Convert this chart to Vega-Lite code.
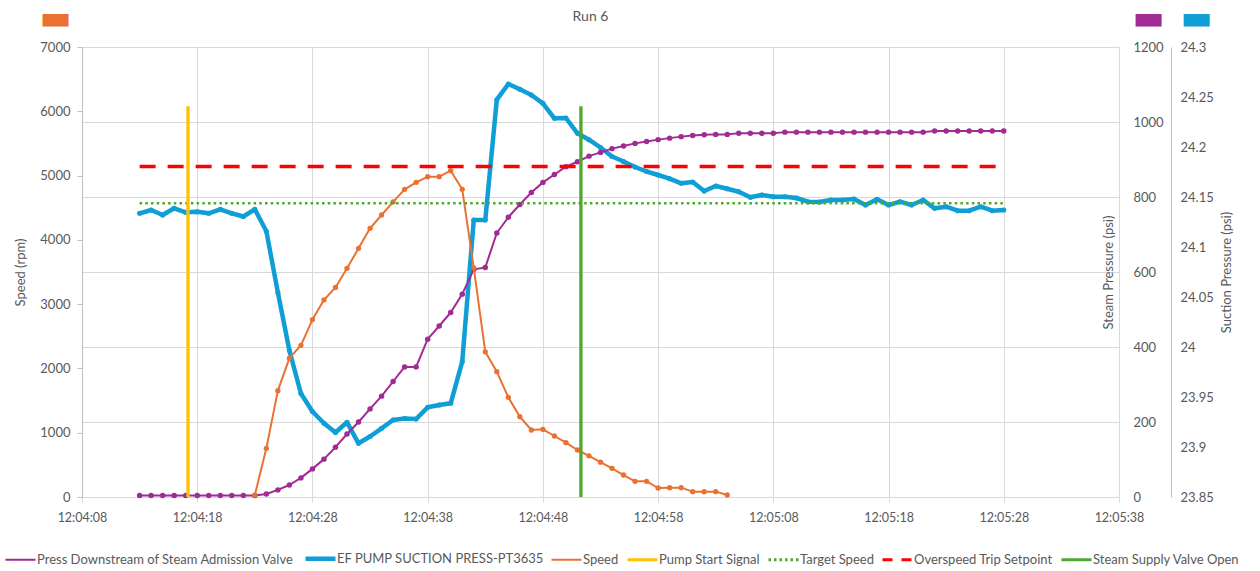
{
  "$schema": "https://vega.github.io/schema/vega-lite/v6.json",
  "width": 1037,
  "height": 450,
  "autosize": {"type": "none"},
  "padding": {"left": 82, "top": 47, "right": 141, "bottom": 74},
  "title": {"text": "Run 6", "anchor": "middle", "frame": "group", "fontSize": 14, "fontWeight": "normal", "color": "#595959", "offset": 24, "dx": -10, "dy": 47},
  "datasets": {
    "readings": [
      {"t": "2024-01-01T12:04:13", "steam": 4, "suction": 24.1337, "speed": null},
      {"t": "2024-01-01T12:04:14", "steam": 4, "suction": 24.137, "speed": null},
      {"t": "2024-01-01T12:04:15", "steam": 4, "suction": 24.132, "speed": null},
      {"t": "2024-01-01T12:04:16", "steam": 4, "suction": 24.1387, "speed": null},
      {"t": "2024-01-01T12:04:17", "steam": 4, "suction": 24.1347, "speed": null},
      {"t": "2024-01-01T12:04:18", "steam": 4, "suction": 24.1353, "speed": null},
      {"t": "2024-01-01T12:04:19", "steam": 4, "suction": 24.1337, "speed": null},
      {"t": "2024-01-01T12:04:20", "steam": 4, "suction": 24.1377, "speed": null},
      {"t": "2024-01-01T12:04:21", "steam": 4, "suction": 24.1337, "speed": null},
      {"t": "2024-01-01T12:04:22", "steam": 4, "suction": 24.1305, "speed": null},
      {"t": "2024-01-01T12:04:23", "steam": 4, "suction": 24.1377, "speed": 30},
      {"t": "2024-01-01T12:04:24", "steam": 8, "suction": 24.1158, "speed": 757},
      {"t": "2024-01-01T12:04:25", "steam": 19, "suction": 24.0543, "speed": 1654},
      {"t": "2024-01-01T12:04:26", "steam": 32, "suction": 23.9965, "speed": 2160},
      {"t": "2024-01-01T12:04:27", "steam": 51, "suction": 23.9535, "speed": 2360},
      {"t": "2024-01-01T12:04:28", "steam": 75, "suction": 23.9355, "speed": 2760},
      {"t": "2024-01-01T12:04:29", "steam": 101, "suction": 23.9237, "speed": 3065},
      {"t": "2024-01-01T12:04:30", "steam": 133, "suction": 23.9145, "speed": 3260},
      {"t": "2024-01-01T12:04:31", "steam": 168, "suction": 23.9247, "speed": 3557},
      {"t": "2024-01-01T12:04:32", "steam": 200, "suction": 23.9037, "speed": 3869},
      {"t": "2024-01-01T12:04:33", "steam": 235, "suction": 23.9105, "speed": 4180},
      {"t": "2024-01-01T12:04:34", "steam": 269, "suction": 23.9187, "speed": 4387},
      {"t": "2024-01-01T12:04:35", "steam": 308, "suction": 23.927, "speed": 4590},
      {"t": "2024-01-01T12:04:36", "steam": 347, "suction": 23.9285, "speed": 4786},
      {"t": "2024-01-01T12:04:37", "steam": 347, "suction": 23.928, "speed": 4895},
      {"t": "2024-01-01T12:04:38", "steam": 421, "suction": 23.9397, "speed": 4983},
      {"t": "2024-01-01T12:04:39", "steam": 456, "suction": 23.942, "speed": 4983},
      {"t": "2024-01-01T12:04:40", "steam": 492, "suction": 23.9437, "speed": 5076},
      {"t": "2024-01-01T12:04:41", "steam": 541, "suction": 23.9853, "speed": 4786},
      {"t": "2024-01-01T12:04:42", "steam": 607, "suction": 24.127, "speed": 3565},
      {"t": "2024-01-01T12:04:43", "steam": 612, "suction": 24.127, "speed": 2258},
      {"t": "2024-01-01T12:04:44", "steam": 704, "suction": 24.2473, "speed": 1949},
      {"t": "2024-01-01T12:04:45", "steam": 746, "suction": 24.263, "speed": 1550},
      {"t": "2024-01-01T12:04:46", "steam": 780, "suction": 24.2577, "speed": 1250},
      {"t": "2024-01-01T12:04:47", "steam": 812, "suction": 24.252, "speed": 1042},
      {"t": "2024-01-01T12:04:48", "steam": 839, "suction": 24.2437, "speed": 1052},
      {"t": "2024-01-01T12:04:49", "steam": 860, "suction": 24.2287, "speed": 949},
      {"t": "2024-01-01T12:04:50", "steam": 881, "suction": 24.229, "speed": 845},
      {"t": "2024-01-01T12:04:51", "steam": 894, "suction": 24.2137, "speed": 731},
      {"t": "2024-01-01T12:04:52", "steam": 909, "suction": 24.2073, "speed": 640},
      {"t": "2024-01-01T12:04:53", "steam": 919, "suction": 24.1995, "speed": 542},
      {"t": "2024-01-01T12:04:54", "steam": 929, "suction": 24.1905, "speed": 446},
      {"t": "2024-01-01T12:04:55", "steam": 936, "suction": 24.1855, "speed": 342},
      {"t": "2024-01-01T12:04:56", "steam": 943, "suction": 24.18, "speed": 244},
      {"t": "2024-01-01T12:04:57", "steam": 948, "suction": 24.1755, "speed": 244},
      {"t": "2024-01-01T12:04:58", "steam": 953, "suction": 24.172, "speed": 140},
      {"t": "2024-01-01T12:04:59", "steam": 957, "suction": 24.1683, "speed": 145},
      {"t": "2024-01-01T12:05:00", "steam": 961, "suction": 24.1637, "speed": 145},
      {"t": "2024-01-01T12:05:01", "steam": 964, "suction": 24.165, "speed": 83},
      {"t": "2024-01-01T12:05:02", "steam": 966, "suction": 24.156, "speed": 83},
      {"t": "2024-01-01T12:05:03", "steam": 967, "suction": 24.161, "speed": 83},
      {"t": "2024-01-01T12:05:04", "steam": 967, "suction": 24.1582, "speed": 31},
      {"t": "2024-01-01T12:05:05", "steam": 970, "suction": 24.1553, "speed": null},
      {"t": "2024-01-01T12:05:06", "steam": 970, "suction": 24.1497, "speed": null},
      {"t": "2024-01-01T12:05:07", "steam": 970, "suction": 24.152, "speed": null},
      {"t": "2024-01-01T12:05:08", "steam": 970, "suction": 24.1503, "speed": null},
      {"t": "2024-01-01T12:05:09", "steam": 973, "suction": 24.1503, "speed": null},
      {"t": "2024-01-01T12:05:10", "steam": 973, "suction": 24.149, "speed": null},
      {"t": "2024-01-01T12:05:11", "steam": 973, "suction": 24.1453, "speed": null},
      {"t": "2024-01-01T12:05:12", "steam": 973, "suction": 24.145, "speed": null},
      {"t": "2024-01-01T12:05:13", "steam": 973, "suction": 24.147, "speed": null},
      {"t": "2024-01-01T12:05:14", "steam": 973, "suction": 24.147, "speed": null},
      {"t": "2024-01-01T12:05:15", "steam": 973, "suction": 24.148, "speed": null},
      {"t": "2024-01-01T12:05:16", "steam": 973, "suction": 24.142, "speed": null},
      {"t": "2024-01-01T12:05:17", "steam": 973, "suction": 24.1477, "speed": null},
      {"t": "2024-01-01T12:05:18", "steam": 973, "suction": 24.142, "speed": null},
      {"t": "2024-01-01T12:05:19", "steam": 973, "suction": 24.1453, "speed": null},
      {"t": "2024-01-01T12:05:20", "steam": 973, "suction": 24.142, "speed": null},
      {"t": "2024-01-01T12:05:21", "steam": 973, "suction": 24.147, "speed": null},
      {"t": "2024-01-01T12:05:22", "steam": 976, "suction": 24.1387, "speed": null},
      {"t": "2024-01-01T12:05:23", "steam": 976, "suction": 24.1403, "speed": null},
      {"t": "2024-01-01T12:05:24", "steam": 976, "suction": 24.1363, "speed": null},
      {"t": "2024-01-01T12:05:25", "steam": 976, "suction": 24.1363, "speed": null},
      {"t": "2024-01-01T12:05:26", "steam": 976, "suction": 24.1403, "speed": null},
      {"t": "2024-01-01T12:05:27", "steam": 976, "suction": 24.1363, "speed": null},
      {"t": "2024-01-01T12:05:28", "steam": 976, "suction": 24.137, "speed": null}
    ],
    "setpoints": [
      {"series": "Target Speed", "t": "2024-01-01T12:04:13", "t2": "2024-01-01T12:05:28", "rpm": 4570},
      {"series": "Overspeed Trip Setpoint", "t": "2024-01-01T12:04:13", "t2": "2024-01-01T12:05:28", "rpm": 5140}
    ],
    "events": [
      {"series": "Pump Start Signal", "t": "2024-01-01T12:04:17.200", "rpm": 6080},
      {"series": "Steam Supply Valve Open", "t": "2024-01-01T12:04:51.300", "rpm": 6080}
    ]
  },
  "encoding": {
    "x": {
      "field": "t",
      "type": "temporal",
      "scale": {
        "domain": [
          {"year": 2024, "month": 1, "date": 1, "hours": 12, "minutes": 4, "seconds": 8},
          {"year": 2024, "month": 1, "date": 1, "hours": 12, "minutes": 5, "seconds": 38}
        ]
      },
      "axis": {
        "title": null,
        "format": "%H:%M:%S",
        "values": [
          {"year": 2024, "month": 1, "date": 1, "hours": 12, "minutes": 4, "seconds": 8},
          {"year": 2024, "month": 1, "date": 1, "hours": 12, "minutes": 4, "seconds": 18},
          {"year": 2024, "month": 1, "date": 1, "hours": 12, "minutes": 4, "seconds": 28},
          {"year": 2024, "month": 1, "date": 1, "hours": 12, "minutes": 4, "seconds": 38},
          {"year": 2024, "month": 1, "date": 1, "hours": 12, "minutes": 4, "seconds": 48},
          {"year": 2024, "month": 1, "date": 1, "hours": 12, "minutes": 4, "seconds": 58},
          {"year": 2024, "month": 1, "date": 1, "hours": 12, "minutes": 5, "seconds": 8},
          {"year": 2024, "month": 1, "date": 1, "hours": 12, "minutes": 5, "seconds": 18},
          {"year": 2024, "month": 1, "date": 1, "hours": 12, "minutes": 5, "seconds": 28},
          {"year": 2024, "month": 1, "date": 1, "hours": 12, "minutes": 5, "seconds": 38}
        ],
        "grid": true,
        "gridColor": "#D9D9D9",
        "domainColor": "#D9D9D9",
        "tickColor": "#D9D9D9",
        "tickSize": 5,
        "labelPadding": 9,
        "labelFontSize": 12.5,
        "labelFlush": false
      }
    }
  },
  "layer": [
    {
      "data": {"name": "readings"},
      "mark": {"type": "line", "strokeJoin": "round", "strokeWidth": 4.5},
      "encoding": {
        "y": {
          "field": "suction",
          "type": "quantitative",
          "scale": {"domain": [23.85, 24.3], "nice": false, "zero": false},
          "axis": {
            "orient": "right",
            "offset": 52,
            "values": [23.85, 23.9, 23.95, 24, 24.05, 24.1, 24.15, 24.2, 24.25, 24.3],
            "format": "~g",
            "grid": false,
            "ticks": false,
            "domain": true,
            "domainColor": "#BFBFBF",
            "labelPadding": 9,
            "title": "Suction Pressure (psi)",
            "titleAngle": -90,
            "titleX": 55,
            "titleY": 225,
            "titleBaseline": "middle",
            "titleAlign": "center"
          }
        },
        "color": {
          "datum": "EF PUMP SUCTION PRESS-PT3635",
          "type": "nominal",
          "title": null,
          "scale": {
            "domain": ["Press Downstream of Steam Admission Valve", "EF PUMP SUCTION PRESS-PT3635", "Speed", "Pump Start Signal", "Target Speed", "Overspeed Trip Setpoint", "Steam Supply Valve Open"],
            "range": ["#A02B93", "#0F9ED5", "#E97132", "#FFC000", "#4EA72E", "#FF0000", "#4EA72E"]
          },
          "legend": {
            "title": null,
            "encode": {
              "symbols": {
                "update": {
                  "strokeDash": {"signal": "datum.value === 'Target Speed' ? [2.5, 3] : datum.value === 'Overspeed Trip Setpoint' ? [10, 9] : [1, 0]"},
                  "strokeWidth": {"signal": "datum.value === 'EF PUMP SUCTION PRESS-PT3635' ? 4.5 : datum.value === 'Press Downstream of Steam Admission Valve' || datum.value === 'Speed' ? 2 : 3"}
                }
              }
            }
          }
        }
      }
    },
    {
      "data": {"name": "readings"},
      "mark": {"type": "point", "filled": true, "size": 26, "opacity": 1},
      "encoding": {
        "y": {
          "field": "suction",
          "type": "quantitative",
          "scale": {"domain": [23.85, 24.3], "nice": false, "zero": false},
          "axis": {
            "orient": "right",
            "offset": 0,
            "labels": false,
            "ticks": false,
            "domain": false,
            "grid": false,
            "title": "▬",
            "titleColor": "#0F9ED5",
            "titleFont": "DejaVu Sans",
            "titleFontSize": 34,
            "titleAngle": 0,
            "titleX": 77,
            "titleY": -29,
            "titleBaseline": "middle",
            "titleAlign": "center"
          }
        },
        "color": {"datum": "EF PUMP SUCTION PRESS-PT3635", "type": "nominal", "title": null}
      }
    },
    {
      "data": {"name": "readings"},
      "mark": {"type": "line", "strokeJoin": "round", "strokeWidth": 2},
      "encoding": {
        "y": {
          "field": "steam",
          "type": "quantitative",
          "scale": {"domain": [0, 1200], "nice": false},
          "axis": {
            "orient": "right",
            "offset": 0,
            "values": [0, 200, 400, 600, 800, 1000, 1200],
            "format": "d",
            "grid": true,
            "gridColor": "#D9D9D9",
            "ticks": false,
            "domain": false,
            "labelPadding": 14,
            "title": "Steam Pressure (psi)",
            "titleAngle": -90,
            "titleX": -11,
            "titleY": 225,
            "titleBaseline": "middle",
            "titleAlign": "center"
          }
        },
        "color": {"datum": "Press Downstream of Steam Admission Valve", "type": "nominal", "title": null}
      }
    },
    {
      "data": {"name": "readings"},
      "mark": {"type": "point", "filled": true, "size": 30, "opacity": 1},
      "encoding": {
        "y": {
          "field": "steam",
          "type": "quantitative",
          "scale": {"domain": [0, 1200], "nice": false},
          "axis": {
            "orient": "right",
            "offset": 0,
            "labels": false,
            "ticks": false,
            "domain": false,
            "grid": false,
            "title": "▬",
            "titleColor": "#A02B93",
            "titleFont": "DejaVu Sans",
            "titleFontSize": 34,
            "titleAngle": 0,
            "titleX": 29,
            "titleY": -29,
            "titleBaseline": "middle",
            "titleAlign": "center"
          }
        },
        "color": {"datum": "Press Downstream of Steam Admission Valve", "type": "nominal", "title": null}
      }
    },
    {
      "data": {"name": "readings"},
      "mark": {"type": "line", "strokeJoin": "round", "strokeWidth": 2},
      "encoding": {
        "y": {
          "field": "speed",
          "type": "quantitative",
          "scale": {"domain": [0, 7000], "nice": false},
          "axis": {
            "orient": "left",
            "values": [0, 1000, 2000, 3000, 4000, 5000, 6000, 7000],
            "format": "d",
            "grid": false,
            "ticks": true,
            "tickSize": 5,
            "tickColor": "#BFBFBF",
            "domain": true,
            "domainColor": "#BFBFBF",
            "labelPadding": 7,
            "title": "Speed (rpm)",
            "titleAngle": -90,
            "titleX": -62,
            "titleY": 225,
            "titleBaseline": "middle",
            "titleAlign": "center"
          }
        },
        "color": {"datum": "Speed", "type": "nominal", "title": null}
      }
    },
    {
      "data": {"name": "readings"},
      "mark": {"type": "point", "filled": true, "size": 28, "opacity": 1},
      "encoding": {
        "y": {
          "field": "speed",
          "type": "quantitative",
          "scale": {"domain": [0, 7000], "nice": false},
          "axis": {
            "orient": "left",
            "labels": false,
            "ticks": false,
            "domain": false,
            "grid": false,
            "title": "▬",
            "titleColor": "#E97132",
            "titleFont": "DejaVu Sans",
            "titleFontSize": 34,
            "titleAngle": 0,
            "titleX": -27,
            "titleY": -29,
            "titleBaseline": "middle",
            "titleAlign": "center"
          }
        },
        "color": {"datum": "Speed", "type": "nominal", "title": null}
      }
    },
    {
      "data": {"name": "setpoints"},
      "transform": [{"filter": "datum.series === 'Target Speed'"}],
      "mark": {"type": "rule", "strokeWidth": 2.5, "strokeDash": [2.5, 3.2]},
      "encoding": {
        "x2": {"field": "t2"},
        "y": {"field": "rpm", "type": "quantitative", "scale": {"domain": [0, 7000], "nice": false}, "axis": null},
        "color": {"field": "series", "type": "nominal", "title": null}
      }
    },
    {
      "data": {"name": "setpoints"},
      "transform": [{"filter": "datum.series === 'Overspeed Trip Setpoint'"}],
      "mark": {"type": "rule", "strokeWidth": 3.5, "strokeDash": [16, 12]},
      "encoding": {
        "x2": {"field": "t2"},
        "y": {"field": "rpm", "type": "quantitative", "scale": {"domain": [0, 7000], "nice": false}, "axis": null},
        "color": {"field": "series", "type": "nominal", "title": null}
      }
    },
    {
      "data": {"name": "events"},
      "mark": {"type": "rule", "strokeWidth": 3.3},
      "encoding": {
        "y": {"field": "rpm", "type": "quantitative", "scale": {"domain": [0, 7000], "nice": false}, "axis": null},
        "y2": {"datum": 0},
        "color": {"field": "series", "type": "nominal", "title": null}
      }
    }
  ],
  "resolve": {"scale": {"y": "independent"}},
  "config": {
    "font": "Lato",
    "view": {"stroke": null},
    "axis": {
      "labelColor": "#595959",
      "titleColor": "#595959",
      "labelFontSize": 13,
      "titleFontSize": 13,
      "titleFontWeight": "normal"
    },
    "legend": {
      "orient": "none",
      "direction": "horizontal",
      "columns": 7,
      "legendX": -68,
      "legendY": 505,
      "symbolType": "stroke",
      "symbolSize": 900,
      "labelFontSize": 13,
      "labelColor": "#595959",
      "labelOffset": 10,
      "columnPadding": 2,
      "labelLimit": 0
    }
  }
}
